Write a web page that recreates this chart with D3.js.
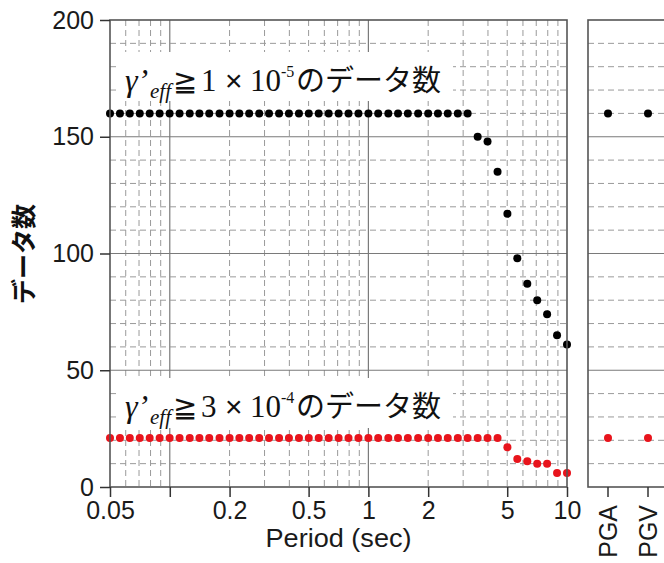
<!DOCTYPE html>
<html><head><meta charset="utf-8">
<script src="https://cdn.jsdelivr.net/npm/d3@7"></script>
<style>body{margin:0;background:#fff}svg{display:block}</style>
</head><body>
<script>
// ---- data ----
const periods = [0.05,0.0561,0.0629,0.0706,0.0792,0.0889,0.0998,0.112,0.126,0.141,0.158,0.178,0.2,0.224,0.251,0.282,0.316,0.355,0.398,0.447,0.501,0.562,0.631,0.708,0.794,0.891,1.0,1.12,1.26,1.41,1.58,1.78,2.0,2.24,2.51,2.82,3.16,3.55,3.98,4.47,5.01,5.62,6.31,7.08,7.94,8.91,10.0];
const countLow = [160,160,160,160,160,160,160,160,160,160,160,160,160,160,160,160,160,160,160,160,160,160,160,160,160,160,160,160,160,160,160,160,160,160,160,160,160,150,148,135,117,98,87,80,74,65,61];
const countHigh = [21,21,21,21,21,21,21,21,21,21,21,21,21,21,21,21,21,21,21,21,21,21,21,21,21,21,21,21,21,21,21,21,21,21,21,21,21,21,21,21,17,12,11,10,10,6,6];
const pgCategories = ["PGA","PGV"];
const pgLow = [160,160];
const pgHigh = [21,21];
const xTickLabels = [0.05,0.2,0.5,1,2,5,10];
const xTickMarks = [0.05,0.1,0.2,0.5,1,2,5,10];
const yTicks = [0,50,100,150,200];
const yLabel = "データ数";
const xLabel = "Period (sec)";

const W=664,H=563;
const svg=d3.select("body").append("svg").attr("width",W).attr("height",H);
const x=d3.scaleLog().domain([0.05,10]).range([110,567]);
const y=d3.scaleLinear().domain([0,200]).range([487,20]);
const xr=d3.scaleBand().domain(pgCategories).range([588,668]);
const cx=c=>xr(c)+xr.bandwidth()/2;
const red="#e8141c", blk="#000";
const dashC="#9a9a9a", solidC="#7a7a7a", borderC="#555";
const yGrid=d3.range(10,200,10);
const isDecade=d=>Math.abs(Math.log10(d)-Math.round(Math.log10(d)))<1e-6;

function hgrid(g,x0,x1){
  g.selectAll(null).data(yGrid).join("line")
   .attr("x1",x0).attr("x2",x1).attr("y1",d=>y(d)).attr("y2",d=>y(d))
   .attr("stroke",d=>d%50===0?solidC:dashC).attr("stroke-width",d=>d%50===0?1.2:1)
   .attr("stroke-dasharray",d=>d%50===0?null:"6,4");
}
// main panel grid
const gm=svg.append("g");
const vt=x.ticks().filter(t=>t>0.05&&t<10);
gm.selectAll(null).data(vt).join("line")
  .attr("x1",d=>x(d)).attr("x2",d=>x(d)).attr("y1",y(200)).attr("y2",y(0))
  .attr("stroke",d=>isDecade(d)?solidC:dashC)
  .attr("stroke-width",d=>isDecade(d)?1.2:1)
  .attr("stroke-dasharray",d=>isDecade(d)?null:"6,4");
hgrid(gm,x(0.05),x(10));
// right panel grid
const gr=svg.append("g");
hgrid(gr,588,668);

// legend backgrounds
svg.append("rect").attr("x",117).attr("y",52).attr("width",336).attr("height",49).attr("fill","#fff");
svg.append("rect").attr("x",117).attr("y",378).attr("width",336).attr("height",50).attr("fill","#fff");

// legend text
function legend(yb,num,exp){
  const t=svg.append("text").attr("y",yb).attr("fill","#111");
  t.append("tspan").attr("x",125).attr("font-family","Liberation Serif").attr("font-style","italic").attr("font-size",32).text("γ’");
  t.append("tspan").attr("x",150).attr("font-family","Liberation Serif").attr("font-style","italic").attr("font-size",21).attr("dy",7).text("eff");
  t.append("tspan").attr("x",173).attr("font-family","DejaVu Serif").attr("font-size",29).attr("dy",-7).text("≧");
  t.append("tspan").attr("x",201).attr("font-family","Liberation Serif").attr("font-size",31).text(num);
  t.append("tspan").attr("x",225).attr("font-family","Liberation Sans").attr("font-size",30).text("×");
  t.append("tspan").attr("x",250).attr("font-family","Liberation Serif").attr("font-size",31).text("10");
  t.append("tspan").attr("x",281).attr("font-family","Liberation Serif").attr("font-size",16).attr("dy",-14).text(exp);
  t.append("tspan").attr("x",296).attr("font-family","Noto Sans CJK JP").attr("font-size",29).attr("dy",14).text("のデータ数");
}
legend(91,"1","-5");
legend(417,"3","-4");

// points
const R=4;
svg.append("g").selectAll("circle").data(periods).join("circle")
  .attr("cx",d=>x(d)).attr("cy",(d,i)=>y(countLow[i])).attr("r",R).attr("fill",blk);
svg.append("g").selectAll("circle").data(periods).join("circle")
  .attr("cx",d=>x(d)).attr("cy",(d,i)=>y(countHigh[i])).attr("r",R).attr("fill",red);
svg.append("g").selectAll("circle").data(pgCategories).join("circle")
  .attr("cx",d=>cx(d)).attr("cy",(d,i)=>y(pgLow[i])).attr("r",R).attr("fill",blk);
svg.append("g").selectAll("circle").data(pgCategories).join("circle")
  .attr("cx",d=>cx(d)).attr("cy",(d,i)=>y(pgHigh[i])).attr("r",R).attr("fill",red);

// borders
svg.append("rect").attr("x",x(0.05)).attr("y",y(200)).attr("width",x(10)-x(0.05)).attr("height",y(0)-y(200))
  .attr("fill","none").attr("stroke",borderC).attr("stroke-width",1.6);
svg.append("rect").attr("x",588).attr("y",y(200)).attr("width",90).attr("height",y(0)-y(200))
  .attr("fill","none").attr("stroke",borderC).attr("stroke-width",1.6);

// axes
const font="Liberation Sans";
const ya=svg.append("g").attr("transform",`translate(${x(0.05)},0)`)
  .call(d3.axisLeft(y).tickValues(yTicks).tickSize(10).tickPadding(6));
const xa=svg.append("g").attr("transform",`translate(0,${y(0)})`)
  .call(d3.axisBottom(x).tickValues(xTickMarks).tickSize(10).tickPadding(4)
  .tickFormat(d=>xTickLabels.includes(d)?String(d):""));
const xb=svg.append("g").attr("transform",`translate(0,${y(0)})`)
  .call(d3.axisBottom(xr).tickSize(10).tickPadding(6));
xb.selectAll("text").attr("transform","rotate(-90)").attr("text-anchor","end")
  .attr("x",-18).attr("y",0).attr("dy","0.36em");
[ya,xa,xb].forEach(g=>{
  g.select(".domain").remove();
  g.selectAll("line").attr("stroke","#333").attr("stroke-width",1.5);
  g.selectAll("text").attr("font-family",font).attr("font-size",25).attr("fill","#1a1a1a");
});

svg.append("text").attr("transform",`translate(33,254) rotate(-90)`).attr("text-anchor","middle")
  .attr("font-family","Noto Sans CJK JP").attr("font-weight","bold").attr("font-size",25).attr("fill","#111").text(yLabel);
svg.append("text").attr("x",338.5).attr("y",547).attr("text-anchor","middle")
  .attr("font-family",font).attr("font-size",25).attr("textLength",146).attr("lengthAdjust","spacingAndGlyphs")
  .attr("fill","#1a1a1a").text(xLabel);
</script>
</body></html>
